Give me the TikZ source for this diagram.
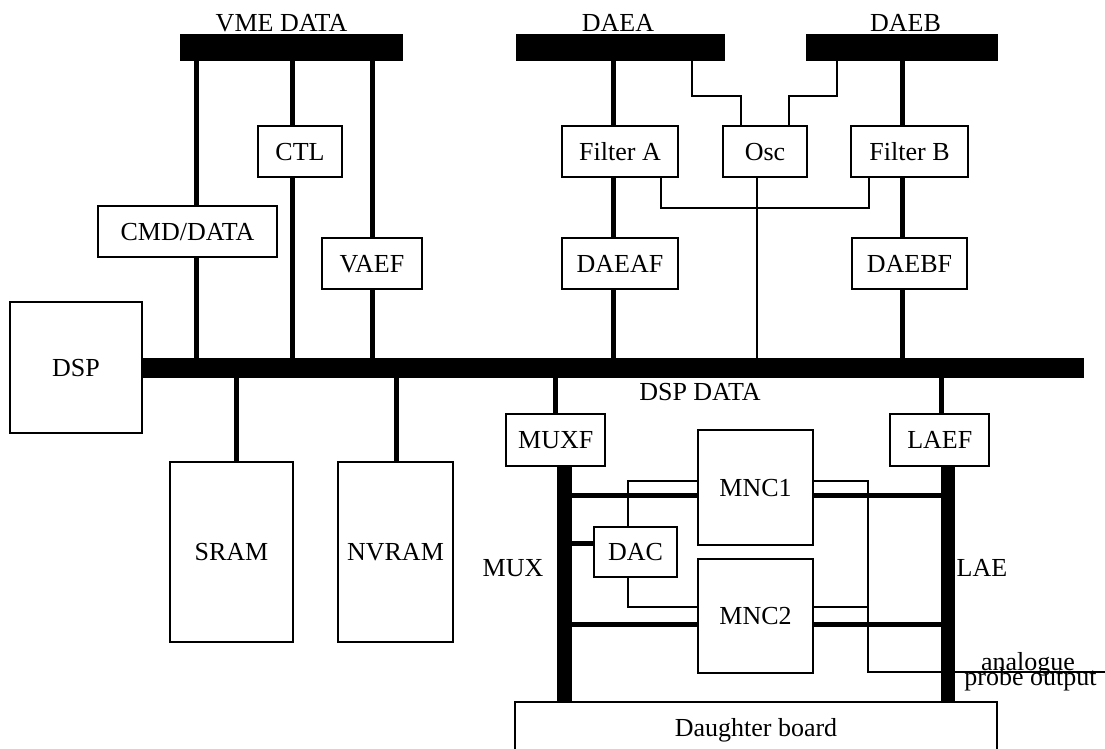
\documentclass[tikz,border=0pt]{standalone}
\usepackage{fontspec}
\setmainfont{Liberation Serif}
\usetikzlibrary{positioning,calc}

\tikzset{
  blk/.style={draw, line width=2pt, fill=white, inner sep=0pt, text depth=0pt},
  busbar/.style={fill=black, draw=none, inner sep=0pt},
  wire/.style={line width=2pt},
  tap/.style={line width=5pt},
  lbl/.style={inner sep=0pt, anchor=base},
}

\begin{document}
\begin{tikzpicture}[x=1pt,y=-1pt,font=\fontsize{26}{28}\selectfont]
  \useasboundingbox (0,0) rectangle (1105,749);
  \clip (0,0) rectangle (1105,749);

  % buses
  \node[busbar, minimum width=223pt, minimum height=27pt] (vme) at (291.5,47.5) {};
  \node[busbar, minimum width=209pt, minimum height=27pt] (daea) at (620.5,47.5) {};
  \node[busbar, minimum width=192pt, minimum height=27pt] (daeb) at (902,47.5) {};
  \node[busbar, minimum width=942pt, minimum height=20pt] (dspbus) at (613,368) {};
  \node[busbar, minimum width=14.5pt, minimum height=236pt] (mux) at (564.3,584) {};
  \node[busbar, minimum width=14.5pt, minimum height=236pt] (lae) at (948.2,584) {};

  \node[lbl] (vmelbl) at (281.5,32) {VME DATA};
  \node[lbl] (daealbl) at (618,32) {DAEA};
  \node[lbl] (daeblbl) at (905.5,32) {DAEB};
  \node[lbl] (dsplbl) at (700,400) {DSP DATA};
  \node[lbl] (muxlbl) at (513,576.7) {MUX};
  \node[lbl] (laelbl) at (982,576.7) {LAE};

  % boxes
  \node[blk, minimum width=179pt, minimum height=51pt] (cmd) at (187.5,231.5) {CMD/DATA};
  \node[blk, minimum width=84pt, minimum height=51pt] (ctl) at (300,151.5) {CTL};
  \node[blk, minimum width=100pt, minimum height=51pt] (vaef) at (372,263.5) {VAEF};
  \node[blk, minimum width=116pt, minimum height=51pt] (fila) at (620,151.5) {Filter A};
  \node[blk, minimum width=84pt, minimum height=51pt] (osc) at (765,151.5) {Osc};
  \node[blk, minimum width=117pt, minimum height=51pt] (filb) at (909.5,151.5) {Filter B};
  \node[blk, minimum width=116pt, minimum height=51pt] (daeaf) at (620,263.5) {DAEAF};
  \node[blk, minimum width=115pt, minimum height=51pt] (daebf) at (909.5,263.5) {DAEBF};
  \node[blk, minimum width=132pt, minimum height=131pt] (dsp) at (76,367.5) {DSP};
  \node[blk, minimum width=123pt, minimum height=180pt] (sram) at (231.5,552) {SRAM};
  \node[blk, minimum width=115pt, minimum height=180pt] (nvram) at (395.5,552) {NVRAM};
  \node[blk, minimum width=99.5pt, minimum height=52pt] (muxf) at (555.7,440) {MUXF};
  \node[blk, minimum width=99pt, minimum height=52pt] (laef) at (939.8,440) {LAEF};
  \node[blk, minimum width=115pt, minimum height=115pt] (mnc1) at (755.5,487.5) {MNC1};
  \node[blk, minimum width=115pt, minimum height=114pt] (mnc2) at (755.5,616) {MNC2};
  \node[blk, minimum width=83pt, minimum height=50pt] (dac) at (635.5,552) {DAC};
  \node[blk, minimum width=482pt, minimum height=50pt] (daughter) at (756,727) {Daughter board};

  \node[lbl] (analogue) at (1028,670) {analogue};
  \node[lbl] (probe) at (1030.5,685) {probe output};

  % tap positions
  \coordinate (xcmd) at (196,0);
  \coordinate (xctl) at (292,0);
  \coordinate (xvaef) at (372,0);
  \coordinate (xdaea) at (613,0);
  \coordinate (xdaeb) at (902,0);
  \coordinate (xosc) at (757,0);
  \coordinate (xsram) at (236,0);
  \coordinate (xnvram) at (396,0);
  \coordinate (xmuxf) at (555,0);
  \coordinate (xlaef) at (941,0);
  \coordinate (xdac) at (628,0);
  \coordinate (xprobe) at (868,0);
  \coordinate (oscA) at (692,95.7);
  \coordinate (oscB) at (837,95.7);
  \coordinate (ymnc1) at (0,495.7);
  \coordinate (ymnc2) at (0,624);
  \coordinate (ydac) at (0,543.3);
  \coordinate (ythin1) at (0,480.5);
  \coordinate (ythin2) at (0,607.3);
  \coordinate (yprobe) at (0,671.7);
  \coordinate (probeend) at (1105,671.7);

  % VME side
  \draw[tap] (vme.south -| xcmd) -- (cmd.north -| xcmd);
  \draw[tap] (cmd.south -| xcmd) -- (dspbus.north -| xcmd);
  \draw[tap] (vme.south -| xctl) -- (ctl.north -| xctl);
  \draw[tap] (ctl.south -| xctl) -- (dspbus.north -| xctl);
  \draw[tap] (vme.south -| xvaef) -- (vaef.north -| xvaef);
  \draw[tap] (vaef.south -| xvaef) -- (dspbus.north -| xvaef);

  % DAE side
  \draw[tap] (daea.south -| xdaea) -- (fila.north -| xdaea);
  \draw[tap] (fila.south -| xdaea) -- (daeaf.north -| xdaea);
  \draw[tap] (daeaf.south -| xdaea) -- (dspbus.north -| xdaea);
  \draw[tap] (daeb.south -| xdaeb) -- (filb.north -| xdaeb);
  \draw[tap] (filb.south -| xdaeb) -- (daebf.north -| xdaeb);
  \draw[tap] (daebf.south -| xdaeb) -- (dspbus.north -| xdaeb);
  \draw[wire] (daea.south -| oscA) -- (oscA) -| ([xshift=-24pt]osc.north);
  \draw[wire] (daeb.south -| oscB) -- (oscB) -| ([xshift=24pt]osc.north);
  \draw[wire] ([xshift=40.5pt]fila.south) -- ++(0,30.3) -| ([xshift=-41pt]filb.south);
  \draw[wire] (osc.south -| xosc) -- (dspbus.north -| xosc);

  % memories
  \draw[tap] (dspbus.south -| xsram) -- (sram.north -| xsram);
  \draw[tap] (dspbus.south -| xnvram) -- (nvram.north -| xnvram);

  % MUX / LAE
  \draw[tap] (dspbus.south -| xmuxf) -- (muxf.north -| xmuxf);
  \draw[tap] (dspbus.south -| xlaef) -- (laef.north -| xlaef);
  \draw[tap] (mux.east |- ymnc1) -- (mnc1.west |- ymnc1);
  \draw[tap] (mnc1.east |- ymnc1) -- (lae.west |- ymnc1);
  \draw[tap] (mux.east |- ymnc2) -- (mnc2.west |- ymnc2);
  \draw[tap] (mnc2.east |- ymnc2) -- (lae.west |- ymnc2);
  \draw[tap] (mux.east |- ydac) -- (dac.west |- ydac);
  \draw[wire] (dac.north -| xdac) -- (xdac |- ythin1) -- (mnc1.west |- ythin1);
  \draw[wire] (dac.south -| xdac) -- (xdac |- ythin2) -- (mnc2.west |- ythin2);
  \draw[wire] (mnc1.east |- ythin1) -- (xprobe |- ythin1) -- (xprobe |- yprobe) -- (probeend);
  \draw[wire] (mnc2.east |- ythin2) -- (xprobe |- ythin2);
\end{tikzpicture}
\end{document}
